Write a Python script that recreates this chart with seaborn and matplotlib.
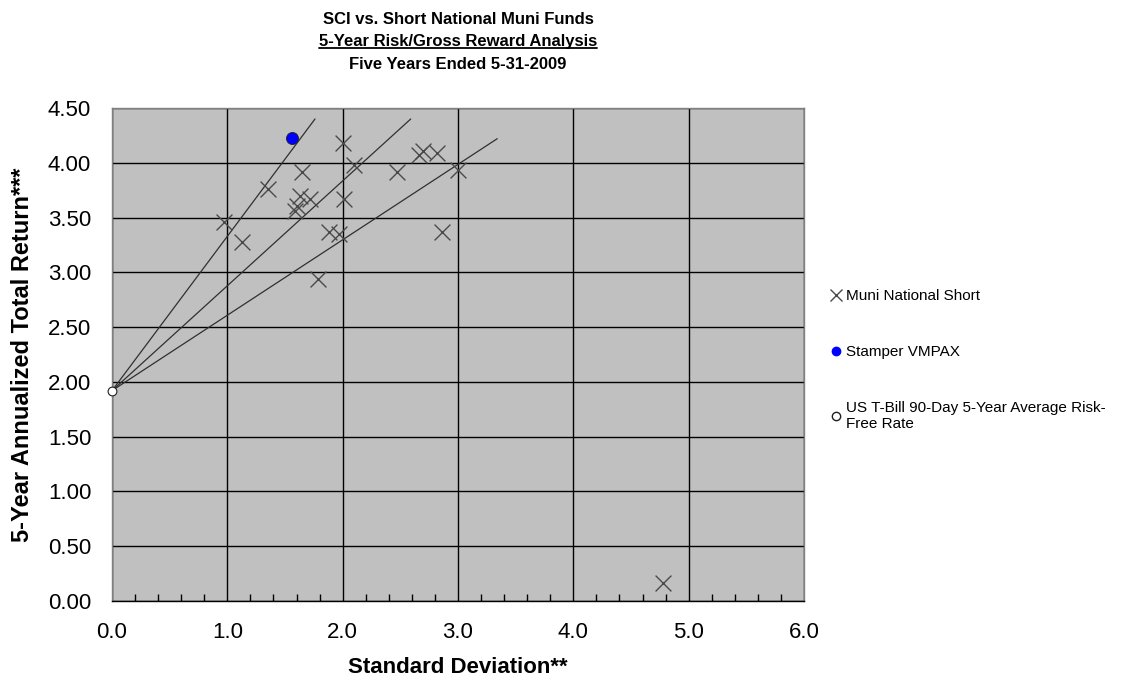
import seaborn as sns
import matplotlib.pyplot as plt
import pandas as pd
from matplotlib.lines import Line2D
from matplotlib import font_manager

# Muni National Short funds (std dev, 5-yr return)
muni_sd = [0.97, 1.13, 1.35, 1.65, 1.63, 1.72, 1.60, 1.59, 1.79, 1.88, 1.97,
           2.00, 2.01, 2.10, 2.47, 2.66, 2.70, 2.82, 3.00, 2.86, 4.78]
muni_ret = [3.46, 3.28, 3.76, 3.92, 3.70, 3.67, 3.61, 3.56, 2.94, 3.37, 3.35,
            4.18, 3.67, 3.98, 3.92, 4.07, 4.11, 4.09, 3.93, 3.37, 0.16]

vmpax_sd = [1.56]
vmpax_ret = [4.23]

tbill_sd = [0.0]
tbill_ret = [1.92]

# end points of the three lines drawn from the risk-free rate
line_sd_end = [1.76, 2.59, 3.34]
line_ret_end = [4.40, 4.40, 4.22]

x_ticks = [0.0, 1.0, 2.0, 3.0, 4.0, 5.0, 6.0]
y_ticks = [0.0, 0.5, 1.0, 1.5, 2.0, 2.5, 3.0, 3.5, 4.0, 4.5]

names = {f.name for f in font_manager.fontManager.ttflist}
narrow = 'Liberation Sans Narrow' if 'Liberation Sans Narrow' in names else 'Liberation Sans'

sns.set_style('white')
plt.rcParams['font.family'] = ['Liberation Sans', 'DejaVu Sans']
plt.rcParams['text.color'] = 'black'
plt.rcParams['axes.labelcolor'] = 'black'
plt.rcParams['xtick.color'] = 'black'
plt.rcParams['ytick.color'] = 'black'

fig = plt.figure(figsize=(11.28, 6.92), dpi=100)
ax = fig.add_axes([0.0993, 0.1315, 0.6135, 0.7124])
ax.set_facecolor('#C0C0C0')

# lines from the T-bill rate
for xe, ye in zip(line_sd_end, line_ret_end):
    ax.plot([tbill_sd[0], xe], [tbill_ret[0], ye], color='#303030', lw=0.9, zorder=3)

df_muni = pd.DataFrame({'sd': muni_sd, 'ret': muni_ret})
sns.scatterplot(data=df_muni, x='sd', y='ret', marker='x', s=130, color='#4a4a4a',
                linewidth=1.0, ax=ax, zorder=4)
sns.scatterplot(x=vmpax_sd, y=vmpax_ret, marker='o', s=75, color='#0000ff',
                edgecolor='#202020', linewidth=0.6, ax=ax, zorder=5)
sns.scatterplot(x=tbill_sd, y=tbill_ret, marker='o', s=40, color='white',
                edgecolor='#202020', linewidth=0.8, ax=ax, zorder=6, clip_on=False)

ax.set_xlim(0, 6)
ax.set_ylim(0, 4.5)
ax.set_xticks(x_ticks)
ax.set_xticklabels([f'{v:.1f}' for v in x_ticks])
ax.set_yticks(y_ticks)
ax.set_yticklabels([f'{v:.2f}' for v in y_ticks])
ax.set_xticks([i / 5 for i in range(31) if i % 5], minor=True)

ax.grid(True, which='major', color='black', lw=1.0)
ax.set_axisbelow(True)
ax.tick_params(axis='both', which='major', direction='out', length=7, width=1,
               color='black', labelsize=16, pad=8)
ax.tick_params(axis='x', which='minor', direction='in', length=5, width=1,
               color='black', bottom=True)
for s in ax.spines.values():
    s.set_color('#808080')
    s.set_linewidth(1)
ax.spines['bottom'].set_color('black')

ax.set_xlabel('Standard Deviation**', fontsize=16, fontweight='bold',
              family=narrow, labelpad=10)
ax.set_ylabel('5-Year Annualized Total Return***', fontsize=17, fontweight='bold',
              family=narrow, labelpad=10)

# title lines
cx = 0.0993 + 0.6135 / 2
fig.text(cx, 0.972, 'SCI vs. Short National Muni Funds', ha='center', va='center',
         fontsize=12, fontweight='bold', family=narrow)
t2 = fig.text(cx, 0.940, '5-Year Risk/Gross Reward Analysis', ha='center', va='center',
              fontsize=12, fontweight='bold', family=narrow)
fig.text(cx, 0.907, 'Five Years Ended 5-31-2009', ha='center', va='center',
         fontsize=12, fontweight='bold', family=narrow)

fig.canvas.draw()
bb = t2.get_window_extent().transformed(fig.transFigure.inverted())
fig.add_artist(Line2D([bb.x0, bb.x1], [bb.y0 + 0.001, bb.y0 + 0.001],
                      transform=fig.transFigure, color='black', lw=1.3))

handles = [
    Line2D([], [], marker='x', ls='none', color='#4a4a4a', markersize=9, mew=1),
    Line2D([], [], marker='o', ls='none', color='#0000ff', markersize=6),
    Line2D([], [], marker='o', ls='none', markerfacecolor='white',
           markeredgecolor='#202020', markersize=6),
]
labels = ['Muni National Short', 'Stamper VMPAX',
          'US T-Bill 90-Day 5-Year Average Risk-\nFree Rate']
ax.legend(handles, labels, loc='upper left', bbox_to_anchor=(1.028, 0.645),
          frameon=False, fontsize=11, labelspacing=2.75, handlelength=0.8,
          handletextpad=0.3, borderaxespad=0)

fig.savefig('out.png', dpi=100)
